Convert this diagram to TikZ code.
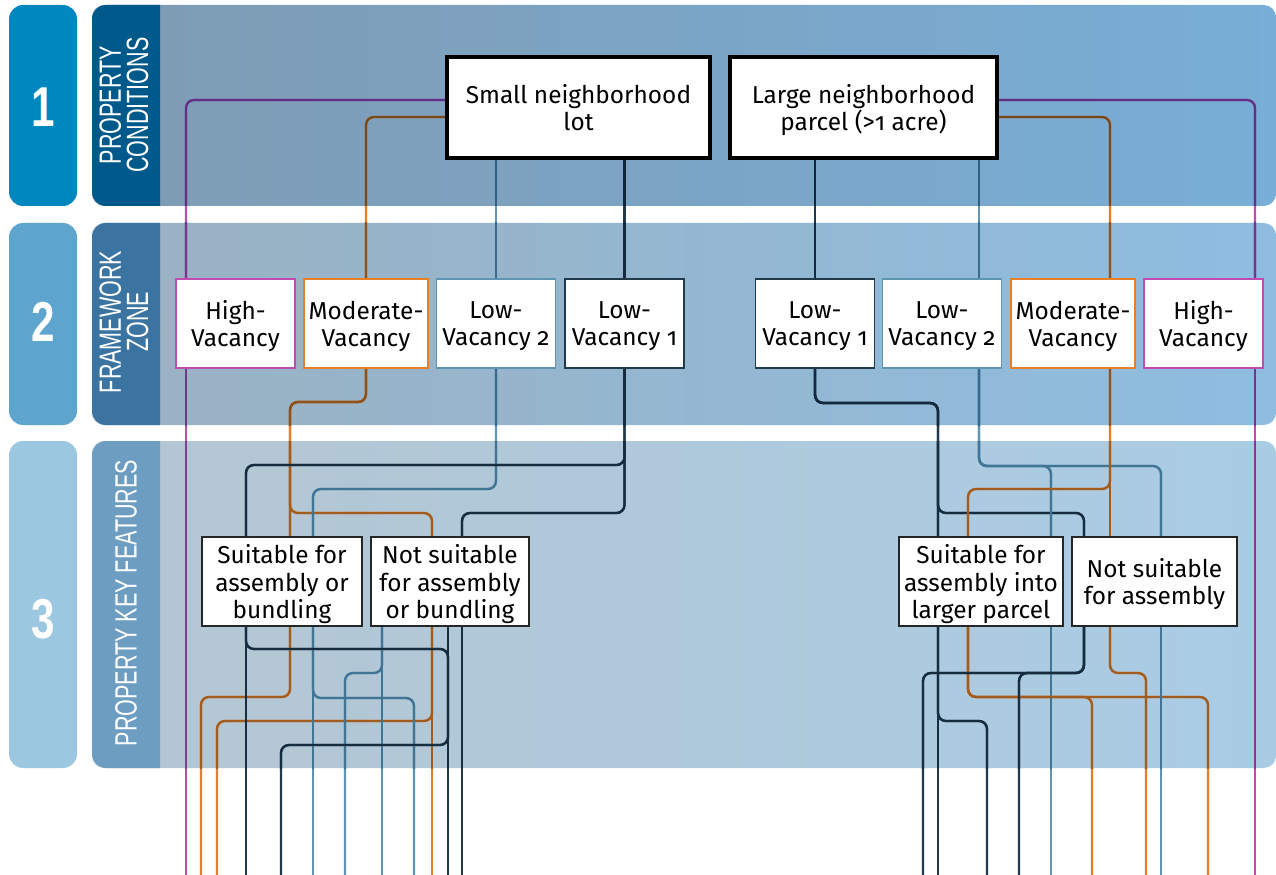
\documentclass[tikz,border=0pt]{standalone}
\usepackage{fontspec}
\setmainfont{Fira Sans}[Numbers=OldStyle]
\newfontfamily\numfont{Liberation Sans}[FakeStretch=0.75]
\newfontfamily\capfont{Liberation Sans}[FakeStretch=0.7]
\usetikzlibrary{calc}

\definecolor{tabA}{HTML}{0087BF}
\definecolor{tabB}{HTML}{5DA5CF}
\definecolor{tabC}{HTML}{9CC7E1}
\definecolor{stripA}{HTML}{00598B}
\definecolor{stripB}{HTML}{3B74A0}
\definecolor{stripC}{HTML}{6D9DC1}
\definecolor{panAl}{HTML}{7F9BB3}
\definecolor{panAr}{HTML}{78AED7}
\definecolor{panBl}{HTML}{9BB1C2}
\definecolor{panBr}{HTML}{8EBDE0}
\definecolor{panCl}{HTML}{B5C6D2}
\definecolor{panCr}{HTML}{A9CCE5}
% wire colours on white and over the three bands
\definecolor{purp}{HTML}{C04CB1}
\definecolor{oran}{HTML}{EA7E25}
\definecolor{stee}{HTML}{5E96B1}
\definecolor{navy}{HTML}{203A4B}
\definecolor{purpA}{HTML}{5E3186}
\definecolor{oranA}{HTML}{76491C}
\definecolor{steeA}{HTML}{2E6086}
\definecolor{navyA}{HTML}{10253A}
\definecolor{purpB}{HTML}{71368F}
\definecolor{oranB}{HTML}{8A521E}
\definecolor{steeB}{HTML}{386A8F}
\definecolor{navyB}{HTML}{13293D}
\definecolor{purpC}{HTML}{853B96}
\definecolor{oranC}{HTML}{A15C1F}
\definecolor{steeC}{HTML}{417596}
\definecolor{navyC}{HTML}{162D40}
\colorlet{wP}{purp}
\colorlet{wO}{oran}
\colorlet{wS}{stee}
\colorlet{wN}{navy}

\pgfdeclarelayer{bg}
\pgfdeclarelayer{wires}
\pgfsetlayers{bg,wires,main}

\tikzset{
	wire/.style={line width=1.3pt, rounded corners=4.5pt},
	pw/.style={wire, wP},
	ow/.style={wire, wO},
	sw/.style={wire, wS},
	nw/.style={wire, wN},
	boxtext/.style={align=center, inner sep=0pt, fill=white, text depth=0pt, font=\fontsize{13.9}{15.4}\selectfont},
	topbox/.style={boxtext, draw=black, line width=2.3pt, minimum height=2.02cm},
	zonebox/.style={boxtext, draw=#1, line width=0.9pt, minimum width=2.38cm, minimum height=1.78cm},
	keybox/.style={boxtext, draw=black!85, line width=0.9pt, minimum height=1.78cm},
	bandnum/.style={text=white, font=\numfont\bfseries\fontsize{32}{32}\selectfont},
	bandcap/.style={text=white, rotate=90, align=center, font=\capfont\fontsize{17.5}{15.5}\selectfont}
}

% all connectors, drawn once per colour set
\newcommand\wirenet{%
	% small lot
	\draw[pw] (small.west |- 0,100) -| (hva.north -| 186,0);
	\draw[ow] (small.west |- 0,117) -| (mva.north);
	\draw[sw] (small.south -| lva2.north) -- (lva2.north);
	\draw[nw] (small.south -| lva1.north) -- (lva1.north);
	
	\draw[pw] (hva.south -| 186,0) -- (b1);
	\draw[ow] (mva.south) |- (290,402) -- (suit.north -| 290,0);
	\draw[ow] (mva.south) |- (290,402) |- (432,513) -- (nsuit.north -| 432,0);
	\draw[sw] (lva2.south) |- (313,489) -- (suit.north -| 313,0);
	\draw[nw] (lva1.south) |- (246,465) -- (suit.north -| 246,0);
	\draw[nw] (lva1.south) |- (462,513) -- (nsuit.north -| 462,0);
	
	\draw[ow] (suit.south -| 290,0) |- (201,697) -- (b2);
	\draw[ow] (nsuit.south -| 432,0) |- (217,721) -- (b3);
	\draw[ow] (nsuit.south -| 432,0) -- (b10);
	\draw[sw] (suit.south -| 313,0) -- (b6);
	\draw[sw] (suit.south -| 313,0) |- (414,698) -- (b9);
	\draw[sw] (nsuit.south -| 382,0) |- (345,673) -- (b7);
	\draw[sw] (nsuit.south -| 382,0) -- (b8);
	\draw[nw] (suit.south -| 246,0) -- (b4);
	\draw[nw] (suit.south -| 246,0) |- (448,649) |- (281,745) -- (b5);
	\draw[nw] (nsuit.south -| 448,0) -- (b11);
	\draw[nw] (nsuit.south -| 462,0) -- (b12);
	
	% large parcel
	\draw[pw] (large.east |- 0,100) -| (rhva.north -| 1255,0);
	\draw[ow] (large.east |- 0,117) -| (rmva.north -| 1110,0);
	\draw[sw] (large.south -| 979,0) -- (rlva2.north -| 979,0);
	\draw[nw] (large.south -| rlva1.north) -- (rlva1.north);
	
	\draw[pw] (rhva.south -| 1255,0) -- (b22);
	\draw[nw] (rlva1.south) |- (938,403) -- (rsuit.north -| 938,0);
	\draw[nw] (rlva1.south) |- (938,403) |- (1084,513) -- (rnsuit.north -| 1084,0);
	\draw[sw] (rlva2.south -| 979,0) |- (1051,466) -- (rsuit.north -| 1051,0);
	\draw[sw] (rlva2.south -| 979,0) |- (1161,466) -- (rnsuit.north -| 1161,0);
	\draw[ow] (rmva.south -| 1110,0) |- (968,489) -- (rsuit.north -| 968,0);
	\draw[ow] (rmva.south -| 1110,0) -- (rnsuit.north -| 1110,0);
	
	\draw[nw] (rsuit.south -| 938,0) -- (b14);
	\draw[nw] (rsuit.south -| 938,0) |- (987,721) -- (b15);
	\draw[sw] (rsuit.south -| 1051,0) -- (b17);
	\draw[ow] (rsuit.south -| 968,0) |- (1208,697) -- (b21);
	\draw[ow] (rsuit.south -| 968,0) |- (1092,697) -- (b18);
	\draw[nw] (rnsuit.south -| 1084,0) |- (923,673) -- (b13);
	\draw[nw] (rnsuit.south -| 1084,0) |- (1019,673) -- (b16);
	\draw[ow] (rnsuit.south -| 1110,0) |- (1146,673) -- (b19);
	\draw[sw] (rnsuit.south -| 1161,0) -- (b20);
}

\begin{document}
\begin{tikzpicture}[x=0.02cm, y=-0.02cm]
			%%%%% START %%%%%
			\useasboundingbox (0,0) rectangle (1276,875);
			
			% bands
			\begin{pgfonlayer}{bg}
			\fill[white] (0,0) rectangle (1276,875);
			\fill[tabA, rounded corners=8pt] (9,5) rectangle (77,206);
			\fill[tabB, rounded corners=8pt] (9,223) rectangle (77,425);
			\fill[tabC, rounded corners=8pt] (9,441) rectangle (77,768);
			\shade[left color=panAl, right color=panAr, rounded corners=7pt] (92,5) rectangle (1276,206);
			\shade[left color=panBl, right color=panBr, rounded corners=7pt] (92,223) rectangle (1276,425);
			\shade[left color=panCl, right color=panCr, rounded corners=7pt] (92,441) rectangle (1276,768);
			\fill[stripA] (160,5) [rounded corners=8pt] -- (92,5) -- (92,206) [sharp corners] -- (160,206) -- cycle;
			\fill[stripB] (160,223) [rounded corners=8pt] -- (92,223) -- (92,425) [sharp corners] -- (160,425) -- cycle;
			\fill[stripC] (160,441) [rounded corners=8pt] -- (92,441) -- (92,768) [sharp corners] -- (160,768) -- cycle;
			\end{pgfonlayer}
			
			\node[bandnum] (n1) at (43,107) {1};
			\node[bandnum] (n2) at (43,322) {2};
			\node[bandnum] (n3) at (43,619) {3};
			\node[bandcap] (c1) at (124,105) {PROPERTY\\CONDITIONS};
			\node[bandcap] (c2) at (124,322) {FRAMEWORK\\ZONE};
			\node[bandcap] (c3) at (126,603) {PROPERTY KEY FEATURES};
			
			% property conditions
			\node[topbox, minimum width=5.26cm] (small) at (578.5,107.5) {Small neighborhood\\lot};
			\node[topbox, minimum width=5.34cm] (large) at (863.5,107.5) {Large neighborhood\\parcel (>1 acre)};
			
			% framework zones
			\node[zonebox=purp] (hva) at (235.5,323.5) {High-\\Vacancy};
			\node[zonebox=oran, minimum width=2.48cm] (mva) at (366,323.5) {Moderate-\\Vacancy};
			\node[zonebox=stee] (lva2) at (496,323.5) {Low-\\Vacancy 2};
			\node[zonebox=navy] (lva1) at (624.5,323.5) {Low-\\Vacancy 1};
			\node[zonebox=navy] (rlva1) at (815,323.5) {Low-\\Vacancy 1};
			\node[zonebox=stee] (rlva2) at (942,323.5) {Low-\\Vacancy 2};
			\node[zonebox=oran, minimum width=2.48cm] (rmva) at (1073,323.5) {Moderate-\\Vacancy};
			\node[zonebox=purp] (rhva) at (1203.5,323.5) {High-\\Vacancy};
			
			% key features
			\node[keybox, minimum width=3.2cm] (suit) at (282,581.5) {Suitable for\\assembly or\\bundling};
			\node[keybox, minimum width=3.16cm] (nsuit) at (450,581.5) {Not suitable\\for assembly\\or bundling};
			\node[keybox, minimum width=3.28cm] (rsuit) at (981,581.5) {Suitable for\\assembly into\\larger parcel};
			\node[keybox, minimum width=3.3cm] (rnsuit) at (1154.5,581.5) {Not suitable\\for assembly};
			
			\foreach \i/\x in {1/186,2/201,3/217,4/246,5/281,6/313,7/345,8/382,9/414,10/432,11/448,12/462,
				13/923,14/938,15/987,16/1019,17/1051,18/1092,19/1146,20/1161,21/1208,22/1255}
				\coordinate (b\i) at (\x,876);
			
			\begin{pgfonlayer}{wires}
			\wirenet
			\foreach \band/\ya/\yb in {A/5/206,B/223/425,C/441/768}{
				\begin{scope}
				\clip (160,\ya) rectangle (1276,\yb);
				\colorlet{wP}{purp\band}
				\colorlet{wO}{oran\band}
				\colorlet{wS}{stee\band}
				\colorlet{wN}{navy\band}
				\wirenet
				\end{scope}
			}
			\end{pgfonlayer}
			%%%%% END %%%%%
\end{tikzpicture}
\end{document}
